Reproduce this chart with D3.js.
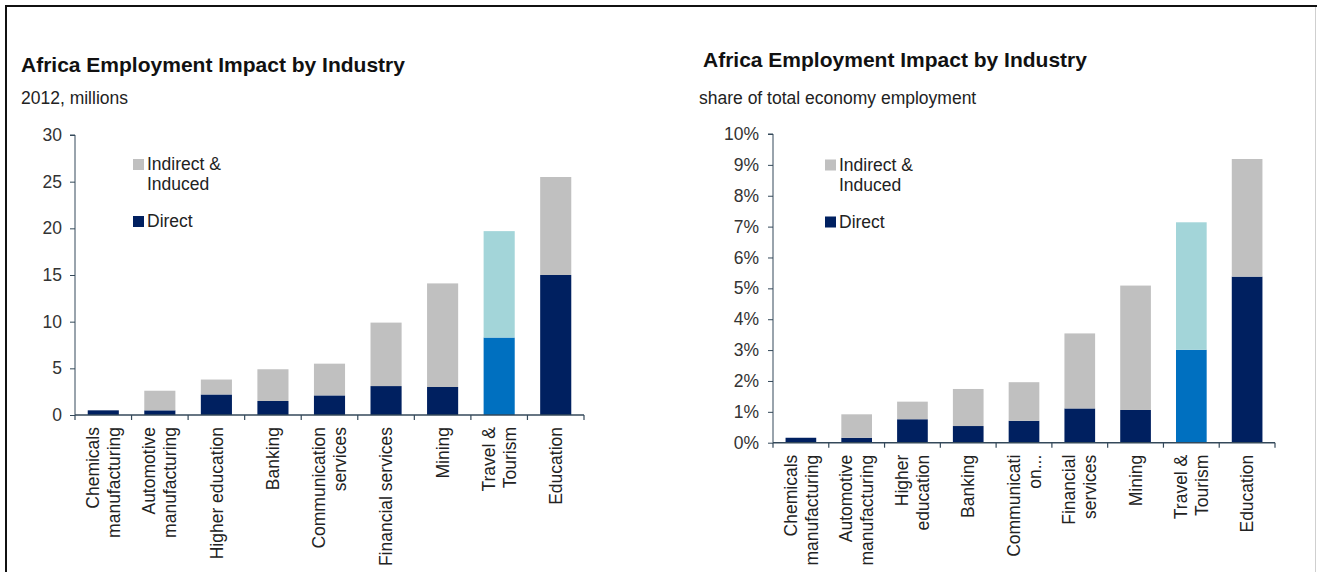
<!DOCTYPE html>
<html>
<head>
<meta charset="utf-8">
<script src="https://cdn.jsdelivr.net/npm/d3@7"></script>
<style>
  html, body { margin: 0; padding: 0; background: #fff; }
  svg { display: block; font-family: "Liberation Sans", Arial, sans-serif; }
</style>
</head>
<body>
<svg id="chart" width="1317" height="572"></svg>
<script>
// Industries, in plotting order
const industries = ["Chemicals manufacturing", "Automotive manufacturing", "Higher education",
  "Banking", "Communication services", "Financial services", "Mining", "Travel & Tourism", "Education"];

// Wrapped axis labels for each panel
const labelsMillions = [["Chemicals", "manufacturing"], ["Automotive", "manufacturing"], ["Higher education"],
  ["Banking"], ["Communication", "services"], ["Financial services"], ["Mining"], ["Travel &", "Tourism"], ["Education"]];
const labelsShare = [["Chemicals", "manufacturing"], ["Automotive", "manufacturing"], ["Higher", "education"],
  ["Banking"], ["Communicati", "on..."], ["Financial", "services"], ["Mining"], ["Travel &", "Tourism"], ["Education"]];

// 2012 employment, millions
const directMillions   = [0.5, 0.5, 2.2, 1.5, 2.1, 3.1, 3.0, 8.3, 15.0];
const indirectMillions = [0.0, 2.1, 1.6, 3.4, 3.4, 6.8, 11.1, 11.4, 10.5];

// Share of total economy employment, %
const directShare   = [0.16, 0.16, 0.76, 0.54, 0.71, 1.11, 1.06, 3.01, 5.38];
const indirectShare = [0.00, 0.76, 0.57, 1.20, 1.25, 2.43, 4.03, 4.13, 3.81];

// Axis ticks
const ticksMillions = [0, 5, 10, 15, 20, 25, 30];
const ticksShare = [0, 1, 2, 3, 4, 5, 6, 7, 8, 9, 10];

const seriesKeys = ["direct", "indirect"];
const seriesNames = { indirect: ["Indirect &", "Induced"], direct: ["Direct"] };
const highlight = "Travel & Tourism";

const colors = {
  direct: "#002060", indirect: "#c0c0c0",
  directHi: "#0070c0", indirectHi: "#a3d5d9",
  axis: "#34495a", text: "#222222"
};

const svg = d3.select("#chart");

// Frame
svg.append("line").attr("x1", 5).attr("x2", 1317).attr("y1", 6).attr("y2", 6)
  .attr("stroke", "#111").attr("stroke-width", 2);
svg.append("line").attr("x1", 6).attr("x2", 6).attr("y1", 5).attr("y2", 572)
  .attr("stroke", "#111").attr("stroke-width", 2);
svg.append("line").attr("x1", 1315.5).attr("x2", 1315.5).attr("y1", 7).attr("y2", 572)
  .attr("stroke", "#cfcfcf").attr("stroke-width", 1);

function panel(opt) {
  const g = svg.append("g");
  const rows = industries.map((name, i) => ({ name, direct: opt.direct[i], indirect: opt.indirect[i] }));

  const x = d3.scaleBand().domain(industries).range([opt.x0, opt.x1])
    .paddingInner(0.45).paddingOuter(0.225);
  const y = d3.scaleLinear().domain([0, opt.ticks[opt.ticks.length - 1]]).range([opt.yBottom, opt.yTop]);

  // Titles
  g.append("text").attr("x", opt.titleX).attr("y", opt.titleY)
    .attr("font-size", 21).attr("font-weight", "bold").attr("fill", "#111")
    .text("Africa Employment Impact by Industry");
  g.append("text").attr("x", opt.subX).attr("y", opt.subY)
    .attr("font-size", 17.5).attr("fill", colors.text).text(opt.subtitle);

  // Stacked bars
  const stacked = d3.stack().keys(seriesKeys)(rows);
  stacked.forEach(layer => {
    g.append("g").selectAll("rect").data(layer).join("rect")
      .attr("x", d => x(d.data.name))
      .attr("width", x.bandwidth())
      .attr("y", d => y(d[1]))
      .attr("height", d => Math.max(0, y(d[0]) - y(d[1])))
      .attr("fill", d => d.data.name === highlight
        ? colors[layer.key + "Hi"] : colors[layer.key]);
  });

  // Y axis
  const yAxis = d3.axisLeft(y).tickValues(opt.ticks).tickSize(5).tickPadding(opt.tickPad)
    .tickFormat(opt.fmt);
  const ya = g.append("g").attr("transform", `translate(${opt.x0},0)`).call(yAxis);
  ya.select(".domain").attr("stroke", colors.axis).attr("d", `M-5,${opt.yTop}H0V${opt.yBottom}`);
  ya.selectAll(".tick line").attr("stroke", colors.axis);
  ya.selectAll(".tick text").attr("font-size", 17.5).attr("fill", "#333")
    .attr("font-family", "'Liberation Sans', Arial, sans-serif");

  // X axis with ticks at category boundaries
  const step = x.step();
  const bounds = d3.range(industries.length + 1).map(i => opt.x0 + i * step);
  g.append("line").attr("x1", opt.x0).attr("x2", opt.x1)
    .attr("y1", opt.yBottom).attr("y2", opt.yBottom)
    .attr("stroke", colors.axis).attr("stroke-width", 1.5);
  g.append("g").selectAll("line").data(bounds).join("line")
    .attr("x1", d => d).attr("x2", d => d)
    .attr("y1", opt.yBottom).attr("y2", opt.yBottom + 5)
    .attr("stroke", colors.axis).attr("stroke-width", 1.2);

  // Rotated category labels
  const lh = 21;
  opt.labels.forEach((lines, i) => {
    const cx = x(industries[i]) + x.bandwidth() / 2;
    const t = g.append("text")
      .attr("transform", `translate(${cx},${opt.yBottom + opt.labelGap}) rotate(-90)`)
      .attr("text-anchor", "end").attr("font-size", 17.5).attr("fill", colors.text);
    lines.forEach((ln, j) => {
      t.append("tspan").attr("x", 0).attr("y", (j - (lines.length - 1) / 2) * lh)
        .attr("dy", "0.35em").text(ln);
    });
  });

  // Legend
  const legendItems = [
    { key: "indirect", y: opt.legendY },
    { key: "direct", y: opt.legendY + 57 }
  ];
  legendItems.forEach(item => {
    g.append("rect").attr("x", opt.legendX).attr("y", item.y - 11)
      .attr("width", 11).attr("height", 11).attr("fill", colors[item.key]);
    const t = g.append("text").attr("x", opt.legendX + 14).attr("y", item.y)
      .attr("font-size", 17.5).attr("fill", colors.text);
    seriesNames[item.key].forEach((ln, j) => {
      t.append("tspan").attr("x", opt.legendX + 14).attr("y", item.y + j * 20).text(ln);
    });
  });
}

panel({
  direct: directMillions, indirect: indirectMillions, ticks: ticksMillions,
  fmt: d => d, labels: labelsMillions,
  x0: 75, x1: 584, yTop: 135, yBottom: 415, tickPad: 8, labelGap: 12,
  titleX: 21, titleY: 72, subX: 21, subY: 104, subtitle: "2012, millions",
  legendX: 133, legendY: 170
});

panel({
  direct: directShare, indirect: indirectShare, ticks: ticksShare,
  fmt: d => d + "%", labels: labelsShare,
  x0: 773, x1: 1275, yTop: 134, yBottom: 442.7, tickPad: 9, labelGap: 12,
  titleX: 703, titleY: 67, subX: 699, subY: 104, subtitle: "share of total economy employment",
  legendX: 825, legendY: 170.5
});
</script>
</body>
</html>
